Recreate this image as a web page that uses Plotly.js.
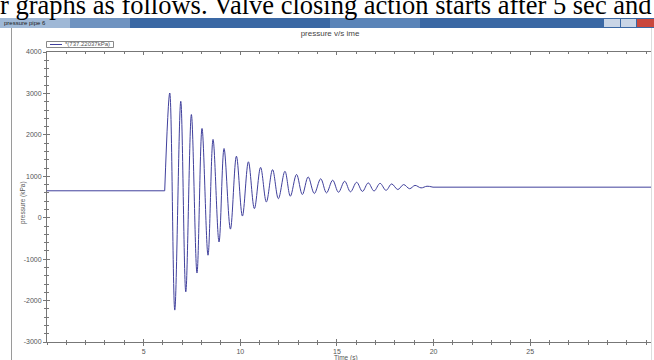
<!DOCTYPE html>
<html>
<head>
<meta charset="utf-8">
<script src="https://cdn.plot.ly/plotly-3.0.1.min.js"></script>
<style>
  html, body { margin: 0; padding: 0; background: #ffffff; }
  #chart { width: 654px; height: 360px; }
</style>
</head>
<body>
<div id="chart"></div>
<script>
// ---- data ----
const docText = "r graphs as follows. Valve closing action starts after 5 sec and";
const windowTitle = "pressure pipe 6";
const chartTitle = "pressure v/s ime";
const xTitle = "Time (s)";
const yTitle = "pressure (kPa)";
const legendLabel = "*(737.22037kPa)";

// steady state before valve closure
const preTime = [0, 6.09];
const prePressure = [650, 650];

// oscillation: alternating extrema (peak, trough, ...)
const oscTime = [6.09, 6.35, 6.61, 6.92, 7.18, 7.47, 7.76, 8.02, 8.33, 8.59, 8.90, 9.16, 9.49, 9.80, 10.11,
  10.42, 10.73, 11.05, 11.35, 11.67, 11.97, 12.31, 12.59, 12.91, 13.21, 13.51, 13.83, 14.16, 14.46,
  14.78, 15.08, 15.40, 15.70, 16.02, 16.32, 16.62, 16.92, 17.23, 17.54, 17.83, 18.15, 18.45, 18.76,
  19.04, 19.35, 19.66, 19.97];
const oscPressure = [650, 3010, -2230, 2810, -1790, 2490, -1335, 2155, -905, 1890, -585, 1670, -275, 1485, 40,
  1350, 220, 1215, 380, 1160, 460, 1120, 520, 1045, 560, 985, 585, 940, 600,
  905, 615, 880, 625, 855, 635, 840, 645, 830, 660, 815, 680, 800, 700,
  780, 720, 760, 737.22];

// steady state after oscillation
const postTime = [19.97, 31.3];
const postPressure = [737.22, 737.22];

const xMajorTicks = [5, 10, 15, 20, 25];
const yTicks = [-3000, -2000, -1000, 0, 1000, 2000, 3000, 4000];
const yTickText = ["-3000", "-2000", "-1000", "0", "1000", "2000", "3000", "4000"];

// ---- layout geometry (pixels) ----
const W = 654, H = 360;
const ML = 47, MR = 2, MT = 52, MB = 18;
const PL = ML, PR = W - MR, PT = MT, PB = H - MB;
const px = x => (x - PL) / (PR - PL);
const py = y => (PB - y) / (PB - PT);

const lineColor = "#40409c";
const axisColor = "#777777";
const textColor = "#555555";
const FONT = "Liberation Sans, Arial, sans-serif";

const traces = [
  { x: preTime, y: prePressure, type: "scatter", mode: "lines",
    line: { color: lineColor, width: 1 }, showlegend: false, hoverinfo: "skip" },
  { x: oscTime, y: oscPressure, type: "scatter", mode: "lines", name: legendLabel,
    line: { color: lineColor, width: 1, shape: "spline", smoothing: 1 }, showlegend: false },
  { x: postTime, y: postPressure, type: "scatter", mode: "lines",
    line: { color: lineColor, width: 1 }, showlegend: false, hoverinfo: "skip" },
  { x: [], y: [], xaxis: "x2", yaxis: "y2", type: "scatter", mode: "lines", showlegend: false, hoverinfo: "skip" }
];

const xRange = [0, 31.3];
const yRange = [-3000, 4000];

const layout = {
  width: W, height: H,
  margin: { l: ML, r: MR, t: MT, b: MB, pad: 0 },
  paper_bgcolor: "#ffffff", plot_bgcolor: "#ffffff",
  showlegend: false,
  font: { family: FONT, color: textColor, size: 7 },
  title: { text: chartTitle, x: 330 / W, y: 1 - 33 / H, xanchor: "center", yanchor: "middle",
           font: { family: FONT, size: 8, color: "#444444" } },
  xaxis: {
    range: xRange, showgrid: false, zeroline: false,
    showline: true, linecolor: axisColor, linewidth: 1, mirror: true,
    ticks: "outside", ticklen: 3, tickcolor: axisColor, tickwidth: 1,
    tickvals: xMajorTicks, ticktext: xMajorTicks.map(String),
    minor: { dtick: 1, tick0: 0, ticks: "outside", ticklen: 2, tickcolor: axisColor },
    tickfont: { family: FONT, size: 7, color: textColor }
  },
  xaxis2: {
    overlaying: "x", anchor: "y", range: xRange, showgrid: false, zeroline: false,
    showline: false, mirror: "ticks", ticks: "inside", ticklen: 3, tickcolor: axisColor,
    tickvals: xMajorTicks, showticklabels: false,
    minor: { dtick: 1, tick0: 0, ticks: "inside", ticklen: 2, tickcolor: axisColor }
  },
  yaxis: {
    range: yRange, showgrid: false, zeroline: false,
    showline: true, linecolor: axisColor, linewidth: 1,
    ticks: "outside", ticklen: 3, tickcolor: axisColor,
    tickvals: yTicks, ticktext: yTickText,
    minor: { dtick: 200, ticks: "outside", ticklen: 2, tickcolor: axisColor },
    tickfont: { family: FONT, size: 7, color: textColor }
  },
  yaxis2: {
    overlaying: "y", anchor: "x", range: yRange, showgrid: false, zeroline: false,
    showline: false, ticks: "inside", ticklen: 3, tickcolor: axisColor,
    tickvals: yTicks, showticklabels: false,
    minor: { dtick: 200, ticks: "inside", ticklen: 2, tickcolor: axisColor }
  },
  shapes: [
    // window title bar
    { type: "rect", xref: "paper", yref: "paper", x0: px(0), x1: px(654), y0: py(28), y1: py(18),
      fillcolor: "#3a68a4", line: { width: 0 }, layer: "below" },
    { type: "rect", xref: "paper", yref: "paper", x0: px(0), x1: px(70), y0: py(28), y1: py(18),
      fillcolor: "#9fb8d6", line: { width: 0 }, layer: "below" },
    { type: "rect", xref: "paper", yref: "paper", x0: px(70), x1: px(130), y0: py(28), y1: py(18),
      fillcolor: "#6f93c0", line: { width: 0 }, layer: "below" },
    { type: "rect", xref: "paper", yref: "paper", x0: px(330), x1: px(420), y0: py(28), y1: py(18),
      fillcolor: "#5a84b8", line: { width: 0 }, layer: "below" },
    { type: "rect", xref: "paper", yref: "paper", x0: px(604), x1: px(620), y0: py(27), y1: py(19),
      fillcolor: "#c9d5e6", line: { width: 0 }, layer: "below" },
    { type: "rect", xref: "paper", yref: "paper", x0: px(621), x1: px(636), y0: py(27), y1: py(19),
      fillcolor: "#c9d5e6", line: { width: 0 }, layer: "below" },
    { type: "rect", xref: "paper", yref: "paper", x0: px(637), x1: px(654), y0: py(27), y1: py(19),
      fillcolor: "#c9473d", line: { width: 0 }, layer: "below" },
    // window borders
    { type: "line", xref: "paper", yref: "paper", x0: px(11.5), x1: px(11.5), y0: py(28), y1: py(360),
      line: { color: "#9a9a9a", width: 1 } },
    { type: "line", xref: "paper", yref: "paper", x0: px(651.5), x1: px(651.5), y0: py(28), y1: py(360),
      line: { color: "#dddddd", width: 1 } },
    // legend box
    { type: "rect", xref: "paper", yref: "paper", x0: px(46.5), x1: px(113.5), y0: py(47.5), y1: py(41.5),
      fillcolor: "#ffffff", line: { color: "#888888", width: 1 } },
    { type: "line", xref: "paper", yref: "paper", x0: px(50), x1: px(62), y0: py(44.5), y1: py(44.5),
      line: { color: lineColor, width: 1 } }
  ],
  annotations: [
    { text: docText, xref: "paper", yref: "paper", x: px(-2), y: py(5), xanchor: "left", yanchor: "middle",
      showarrow: false, font: { family: "Liberation Serif, Times New Roman, serif", size: 26.5, color: "#000000" } },
    { text: windowTitle, xref: "paper", yref: "paper", x: px(2), y: py(23), xanchor: "left", yanchor: "middle",
      showarrow: false, font: { family: FONT, size: 6, color: "#1a1a1a" } },
    { text: legendLabel, xref: "paper", yref: "paper", x: px(63), y: py(44.5), xanchor: "left", yanchor: "middle",
      showarrow: false, font: { family: FONT, size: 6, color: "#555555" } },
    { text: xTitle, xref: "paper", yref: "paper", x: px(346), y: py(358), xanchor: "center", yanchor: "middle",
      showarrow: false, font: { family: FONT, size: 6.5, color: textColor } },
    { text: yTitle, xref: "paper", yref: "paper", x: px(23), y: py(203), xanchor: "center", yanchor: "middle",
      textangle: -90, showarrow: false, font: { family: FONT, size: 6.5, color: textColor } }
  ]
};

Plotly.newPlot("chart", traces, layout, { staticPlot: true, displayModeBar: false });
</script>
</body>
</html>
